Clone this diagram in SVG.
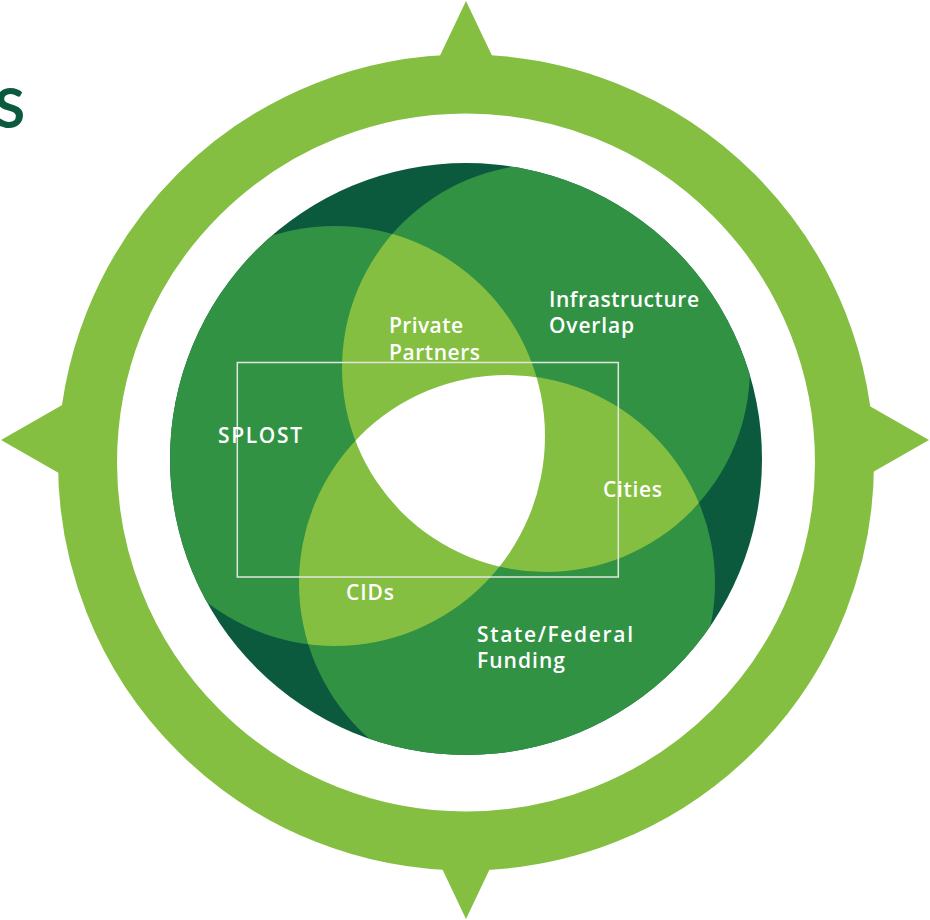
<svg xmlns="http://www.w3.org/2000/svg" width="930" height="920" viewBox="0 0 930 920">
<defs>
<clipPath id="clipDisk"><circle cx="466" cy="459" r="296"/></clipPath>
<clipPath id="clipA"><circle cx="546" cy="368" r="204"/></clipPath>
<clipPath id="clipB"><circle cx="335" cy="436" r="210"/></clipPath>
<clipPath id="clipC"><circle cx="507" cy="583" r="208"/></clipPath>
</defs>
<style>
.light{fill:#84bf41}
.single{fill:#319244}
.dark{fill:#0b5a3e}
.lbl{font-family:"Open Sans",Lato,"Liberation Sans",sans-serif;font-size:21px;font-weight:600;fill:#ffffff;font-variant-ligatures:none}
</style>
<rect width="930" height="920" fill="#ffffff"/>
<text x="25" y="128" text-anchor="end" font-family="Lato,'Liberation Sans',sans-serif" font-size="56" font-weight="700" fill="#0b5a3e">S</text>
<g id="compass">
<circle cx="466" cy="462.5" r="378.5" fill="none" stroke="#84bf41" stroke-width="59"/>
<polygon class="light" points="466,1 436,64 496,64"/>
<polygon class="light" points="466,919 437,858 495,858"/>
<polygon class="light" points="1,440 64,404 64,476"/>
<polygon class="light" points="929,440 866,404 866,476"/>
</g>
<g id="venn">
<circle class="dark" cx="466" cy="459" r="296"/>
<g clip-path="url(#clipDisk)">
<g id="circle-a"><circle class="single" cx="546" cy="368" r="204"/></g>
<g id="circle-b"><circle class="single" cx="335" cy="436" r="210"/></g>
<g id="circle-c"><circle class="single" cx="507" cy="583" r="208"/></g>
<g id="lens-ab" clip-path="url(#clipA)"><circle class="light" cx="335" cy="436" r="210"/></g>
<g id="lens-ac" clip-path="url(#clipA)"><circle class="light" cx="507" cy="583" r="208"/></g>
<g id="lens-bc" clip-path="url(#clipB)"><circle class="light" cx="507" cy="583" r="208"/></g>
<g id="center" clip-path="url(#clipA)"><g clip-path="url(#clipB)"><circle cx="507" cy="583" r="208" fill="#ffffff"/></g></g>
</g>
</g>
<rect id="frame" x="237.3" y="362.5" width="381" height="214.5" fill="none" stroke="#e2e6e0" stroke-width="1.5"/>
<g id="labels">
<g id="lbl-infra"><text class="lbl" x="549" y="307" textLength="150" lengthAdjust="spacing">Infrastructure</text><text class="lbl" x="549" y="333" textLength="85" lengthAdjust="spacing">Overlap</text></g>
<g id="lbl-private"><text class="lbl" x="389" y="333" textLength="74" lengthAdjust="spacing">Private</text><text class="lbl" x="389" y="360" textLength="91" lengthAdjust="spacing">Partners</text></g>
<g id="lbl-splost"><text class="lbl" x="218" y="443" textLength="84" lengthAdjust="spacing">SPLOST</text></g>
<g id="lbl-cities"><text class="lbl" x="603" y="497" textLength="59" lengthAdjust="spacing">Cities</text></g>
<g id="lbl-cids"><text class="lbl" x="346" y="600" textLength="48" lengthAdjust="spacing">CIDs</text></g>
<g id="lbl-state"><text class="lbl" x="477" y="642" textLength="156" lengthAdjust="spacing">State/Federal</text><text class="lbl" x="477" y="668" textLength="88" lengthAdjust="spacing">Funding</text></g>
</g>
</svg>
